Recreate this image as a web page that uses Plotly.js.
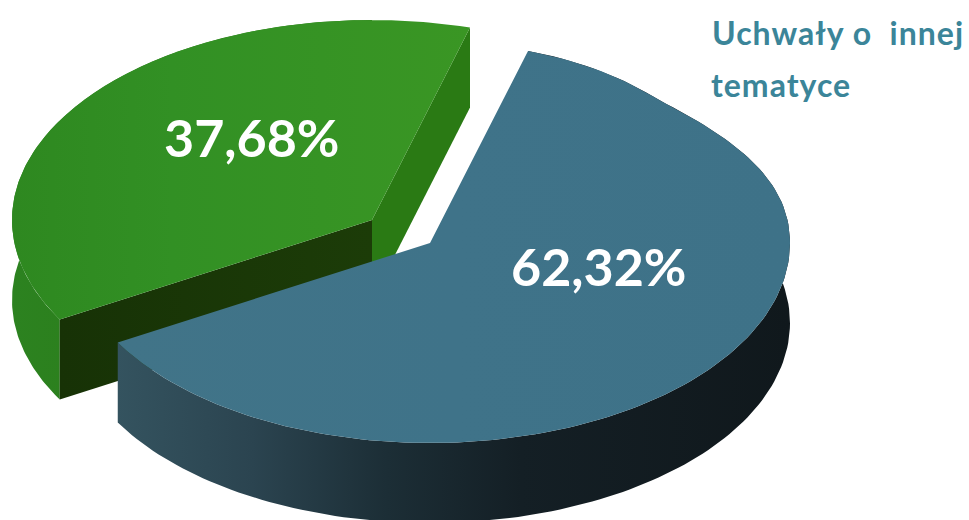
<!DOCTYPE html>
<html><head><meta charset="utf-8">
<script src="https://cdn.plot.ly/plotly-3.0.1.min.js"></script>
<style>html,body{margin:0;padding:0;background:#fff;overflow:hidden}
g.annotation[data-index="2"] text,g.annotation[data-index="3"] text{letter-spacing:1px}</style>
</head><body><div id="chart" style="width:969px;height:520px"></div>
<script>
const categories = ['Uchwały o\u00a0 innej tematyce', 'Pozostałe uchwały'];
const shares = [62.32, 37.68];
const legendLines = ['Uchwały o\u00a0 innej', 'tematyce'];

const START = 15.8, A = 360, B = 200, DEPTH = 80;
const BLUE = {cx: 430, cy: 243, k: 12}, GREEN = {cx: 372, cy: 220, k: 0};
const span0 = shares[0] / 100 * 360, span1 = shares[1] / 100 * 360;

function arc(c, from, to, dy) {
  const pts = [], n = 160;
  for (let i = 0; i <= n; i++) {
    const t = (from + (to - from) * i / n) * Math.PI / 180;
    const s = Math.sin(t), co = Math.cos(t);
    const warp = (s > 0 && co > 0) ? c.k * Math.pow(Math.sin(2 * t), 2) * (t > 0.7 ? 1 : Math.pow(t / 0.7, 2)) : 0;
    pts.push([c.cx + A * s, c.cy - B * co + dy + (dy ? 0 : warp)]);
  }
  return pts;
}
function poly(pts, scale, dir) {
  const p = pts.concat([pts[0]]);
  return {type: 'scatter', mode: 'lines', x: p.map(q => q[0]), y: p.map(q => q[1]),
    line: {width: 0}, fill: 'toself', hoverinfo: 'skip', showlegend: false,
    fillgradient: {type: dir || 'horizontal', colorscale: scale}};
}
function flat(c) { return [[0, c], [1, c]]; }
function corner(c, ang, dy) { return arc(c, ang, ang, dy)[0]; }

const bStart = START, bEnd = START + span0, gStart = bEnd, gEnd = bEnd + span1;

const gOuter = arc(GREEN, gStart, Math.min(gEnd, 360), 0)
  .concat(arc(GREEN, gStart, Math.min(gEnd, 360), DEPTH).reverse());
const gWallLeft = [[GREEN.cx, GREEN.cy], corner(GREEN, gStart, 0), corner(GREEN, gStart, DEPTH), [GREEN.cx, GREEN.cy + DEPTH]];
const gWallRight = [[GREEN.cx, GREEN.cy], corner(GREEN, gEnd, 0), corner(GREEN, gEnd, DEPTH), [GREEN.cx, GREEN.cy + DEPTH]];
const gTop = [[GREEN.cx, GREEN.cy]].concat(arc(GREEN, gStart, gEnd, 0));
const bOuter = arc(BLUE, bStart, bEnd, 0).concat(arc(BLUE, bStart, bEnd, DEPTH).reverse());
const bTop = [[BLUE.cx, BLUE.cy]].concat(arc(BLUE, bStart, bEnd, 0));

const data = [
  poly(gOuter, [[0, '#2c8220'], [0.5, '#2b7c18'], [1, '#2b7c18']]),
  poly(gWallRight, flat('#2a7a14')),
  poly(gWallLeft, [[0, '#173206'], [1, '#1c3c08']]),
  poly(gTop, [[0, '#2e8820'], [0.35, '#329024'], [1, '#3a9624']]),
  poly(bOuter, [[0, '#34535f'], [0.2, '#2b4450'], [0.4, '#1c2e36'], [0.6, '#141f25'], [1, '#10181c']]),
  poly(bTop, [[0, '#417488'], [0.5, '#3f7389'], [1, '#3e7288']])
];

const fmt = v => v.toFixed(2).replace('.', ',') + '%';
const ann = (text, x, y, size, color, anchor) => ({text, x, y, xref: 'x', yref: 'y', showarrow: false,
  xanchor: anchor, yanchor: 'middle', font: {family: 'Lato', size, color, weight: 700}});
const annotations = [
  ann(fmt(shares[1]), 251, 137, 52, '#ffffff', 'center'),
  ann(fmt(shares[0]), 598, 266, 52, '#ffffff', 'center'),
  ann(legendLines[0], 718, 32, 32, '#3b8599', 'left'),
  ann(legendLines[1], 713, 84, 32, '#3b8599', 'left')
];

Plotly.newPlot('chart', data, {
  width: 969, height: 520, margin: {l: 0, r: 0, t: 0, b: 0},
  paper_bgcolor: '#fff', plot_bgcolor: '#fff', showlegend: false, hovermode: false,
  xaxis: {range: [0, 969], visible: false, fixedrange: true},
  yaxis: {range: [520, 0], visible: false, fixedrange: true},
  annotations
}, {displayModeBar: false, staticPlot: true});
</script></body></html>
